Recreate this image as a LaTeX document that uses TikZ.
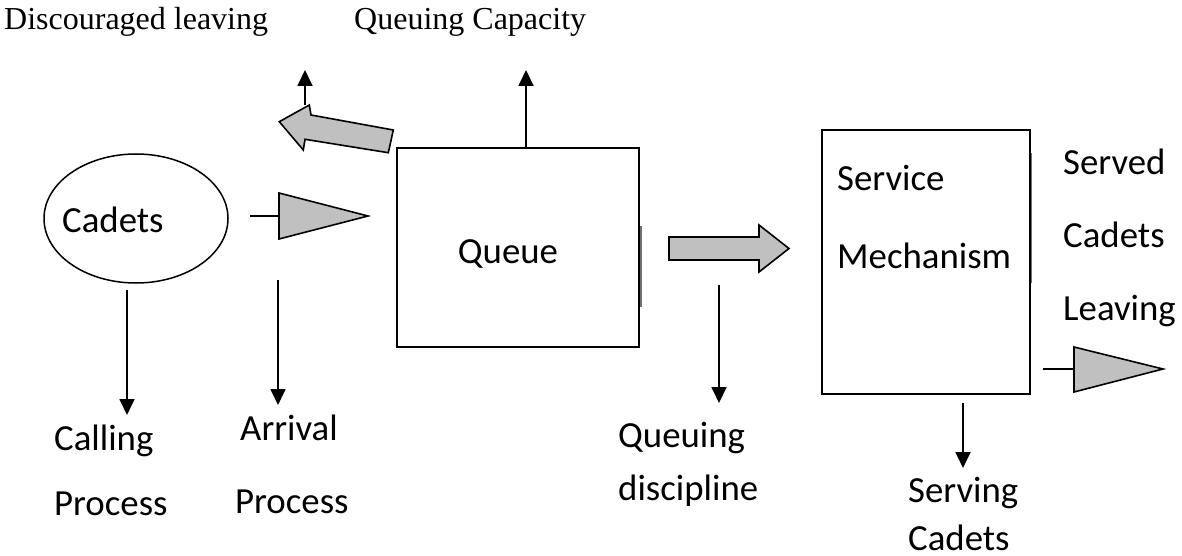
\documentclass[tikz,border=0pt]{standalone}
\usepackage{fontspec}
\setmainfont{Carlito}
\newfontfamily\timesf{Liberation Serif}
\usetikzlibrary{arrows.meta,shapes.geometric}
\definecolor{blockgray}{HTML}{C0C0C0}
\definecolor{edgegray}{HTML}{707070}
\begin{document}
\begin{tikzpicture}[x=1pt,y=-1pt,
  lbl/.style={anchor=base west,inner sep=0pt,font=\fontsize{36.8}{44}\selectfont},
  toplbl/.style={anchor=base west,inner sep=0pt,font=\timesf\fontsize{32}{38}\selectfont},
  ln/.style={line width=1.8pt},
  arr/.style={ln,-{Triangle[width=15pt,length=16pt]}},
  blk/.style={draw,line width=1.6pt,fill=blockgray,line join=miter},
  box/.style={draw,line width=1.8pt,inner sep=0pt}]
\useasboundingbox (0,0) rectangle (1182,556);

% top labels
\node[toplbl] (tdisc) at (4,30) {Discouraged leaving};
\node[toplbl] (tcap) at (354,30) {Queuing Capacity};

% main shapes
\node[draw,ellipse,line width=1.5pt,inner sep=0pt,minimum width=184pt,minimum height=129pt] (cad) at (136,218.5) {};
\node[lbl] (tcad) at (62,232) {Cadets};
\node[box,minimum width=242pt,minimum height=199pt] (queue) at (518,247.5) {};
\node[lbl,anchor=base] (tqueue) at (508,263) {Queue};
\node[box,minimum width=208pt,minimum height=264pt] (serv) at (926,262) {};
\node[lbl] (tserv1) at (837,190) {Service};
\node[lbl] (tserv2) at (837,268) {Mechanism};
\draw[edgegray,line width=1.2pt] (641,226) -- (641,307);
\draw[edgegray,line width=1.2pt] (1031.5,153) -- (1031.5,283);

% coordinates
\coordinate (u1s) at (305,105);
\coordinate (u1e) at (305,70);
\coordinate (u2e) at (526,70);
\coordinate (d1s) at (127,290);
\coordinate (d1e) at (127,415);
\coordinate (d2s) at (278,280);
\coordinate (d2e) at (278,405);
\coordinate (d3s) at (719,285);
\coordinate (d3e) at (719,403);
\coordinate (d4s) at (963,403);
\coordinate (d4e) at (963,468);

% vertical arrows
\draw[arr] (u1s) -- (u1e);
\draw[arr] (u2e |- queue.north) -- (u2e);
\draw[arr] (d1s) -- (d1e);
\draw[arr] (d2s) -- (d2e);
\draw[arr] (d3s) -- (d3e);
\draw[arr] (d4s) -- (d4e);

% discouraged leaving block arrow
\draw[blk] (279.3,121.7) -- (309.3,105) -- (311,115) -- (393.3,130)
  -- (388.3,152.7) -- (305,139.3) -- (303.3,150) -- cycle;

% arrival triangle
\coordinate (t1a) at (250,216);
\coordinate (t1b) at (279,216);
\draw[ln] (t1a) -- (t1b);
\draw[blk] (279,193) -- (368,216) -- (279,239) -- cycle;

% queue to service block arrow
\draw[blk] (669,237) -- (759,237) -- (759,225) -- (789,248.5) -- (759,272)
  -- (759,260) -- (669,260) -- cycle;

% leaving triangle
\coordinate (t2a) at (1043,369);
\coordinate (t2b) at (1074,369);
\draw[ln] (t2a) -- (t2b);
\draw[blk] (1074,347) -- (1163,369) -- (1074,392) -- cycle;

% labels
\node[lbl] (tcall1) at (54,450) {Calling};
\node[lbl] (tcall2) at (54,515) {Process};
\node[lbl] (tarr1) at (240,440) {Arrival};
\node[lbl] (tarr2) at (235,513) {Process};
\node[lbl] (tqd1) at (618,447) {Queuing};
\node[lbl] (tqd2) at (618,500) {discipline};
\node[lbl] (tsc1) at (1063,175) {Served};
\node[lbl] (tsc2) at (1063,247) {Cadets};
\node[lbl] (tsc3) at (1063,320) {Leaving};
\node[lbl] (tsv1) at (908,502) {Serving};
\node[lbl] (tsv2) at (908,550) {Cadets};
\end{tikzpicture}
\end{document}
